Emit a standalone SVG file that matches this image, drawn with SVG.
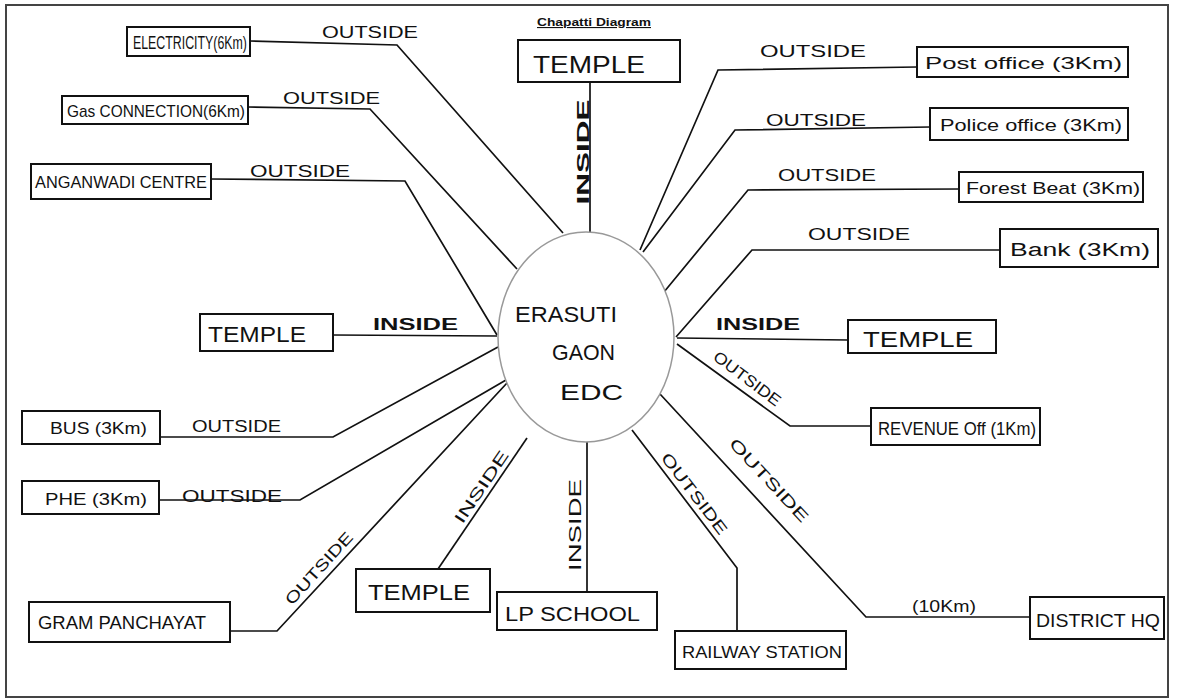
<svg xmlns="http://www.w3.org/2000/svg" width="1181" height="700" viewBox="0 0 1181 700">
<style>
.box{fill:#fff;stroke:#111;stroke-width:2}
.t{font-family:"Liberation Sans","DejaVu Sans",sans-serif;fill:#111}
.lbl{font-family:"Liberation Sans","DejaVu Sans",sans-serif;fill:#111;font-size:16px}
.b{font-weight:bold}
.ln{fill:none;stroke:#111;stroke-width:1.7;stroke-linejoin:miter}
</style>
<rect x="0" y="0" width="1181" height="700" fill="#fff"/>
<rect x="6" y="5" width="1162" height="692" fill="none" stroke="#444" stroke-width="2"/>
<text class="t b" x="537" y="26" font-size="11" textLength="114" lengthAdjust="spacingAndGlyphs" text-decoration="underline">Chapatti Diagram</text>

<g id="connectors">
<polyline class="ln" points="250,41 397,45 563,233"/>
<polyline class="ln" points="248,107 370,109 517,269"/>
<polyline class="ln" points="210,179 405,181 497,335"/>
<polyline class="ln" points="333,335 497,336"/>
<polyline class="ln" points="160,437 333,437 498,347"/>
<polyline class="ln" points="159,500 300,500 506,380"/>
<polyline class="ln" points="230,631 277,631 507,383"/>
<polyline class="ln" points="438,569 527,438"/>
<polyline class="ln" points="587,442 587,592"/>
<polyline class="ln" points="632,430 737,568 737,631"/>
<polyline class="ln" points="660,394 866,617 1030,617"/>
<polyline class="ln" points="677,344 790,426 871,426"/>
<polyline class="ln" points="677,338 848,340"/>
<polyline class="ln" points="676,337 752,250 1000,250"/>
<polyline class="ln" points="664,292 748,190 959,189"/>
<polyline class="ln" points="643,252 735,130 930,127"/>
<polyline class="ln" points="640,250 718,70 917,67"/>
<polyline class="ln" points="590,232 590,82"/>
</g>

<g id="labels">
<text class="lbl" x="322" y="38" textLength="96" lengthAdjust="spacingAndGlyphs">OUTSIDE</text>
<text class="lbl" x="283" y="104" textLength="97" lengthAdjust="spacingAndGlyphs">OUTSIDE</text>
<text class="lbl" x="250" y="177" textLength="100" lengthAdjust="spacingAndGlyphs">OUTSIDE</text>
<text class="lbl b" x="373" y="330" textLength="85" lengthAdjust="spacingAndGlyphs">INSIDE</text>
<text class="lbl" x="192" y="432" textLength="89" lengthAdjust="spacingAndGlyphs">OUTSIDE</text>
<text class="lbl" x="182" y="502" textLength="100" lengthAdjust="spacingAndGlyphs">OUTSIDE</text>
<text class="lbl" transform="translate(323,572) rotate(-47.7)" text-anchor="middle" font-size="15" textLength="92" lengthAdjust="spacingAndGlyphs">OUTSIDE</text>
<text class="lbl" transform="translate(486,490) rotate(-56)" text-anchor="middle" font-size="15" textLength="84" lengthAdjust="spacingAndGlyphs">INSIDE</text>
<text class="lbl" transform="translate(581,525) rotate(-90)" text-anchor="middle" font-size="15" textLength="92" lengthAdjust="spacingAndGlyphs">INSIDE</text>
<text class="lbl" transform="translate(690,497) rotate(52.7)" text-anchor="middle" font-size="16" textLength="98" lengthAdjust="spacingAndGlyphs">OUTSIDE</text>
<text class="lbl" transform="translate(765,484) rotate(47.1)" text-anchor="middle" font-size="17" textLength="108" lengthAdjust="spacingAndGlyphs">OUTSIDE</text>
<text class="lbl" x="912" y="612" textLength="64" lengthAdjust="spacingAndGlyphs">(10Km)</text>
<text class="lbl" transform="translate(744,383) rotate(37)" text-anchor="middle" font-size="14" textLength="80" lengthAdjust="spacingAndGlyphs">OUTSIDE</text>
<text class="lbl b" x="716" y="330" textLength="84" lengthAdjust="spacingAndGlyphs">INSIDE</text>
<text class="lbl" x="808" y="240" textLength="102" lengthAdjust="spacingAndGlyphs">OUTSIDE</text>
<text class="lbl" x="778" y="181" textLength="98" lengthAdjust="spacingAndGlyphs">OUTSIDE</text>
<text class="lbl" x="766" y="126" textLength="100" lengthAdjust="spacingAndGlyphs">OUTSIDE</text>
<text class="lbl" x="760" y="57" textLength="106" lengthAdjust="spacingAndGlyphs">OUTSIDE</text>
<text class="lbl b" transform="translate(589,152) rotate(-90)" text-anchor="middle" font-size="17" textLength="105" lengthAdjust="spacingAndGlyphs">INSIDE</text>
</g>

<g id="center">
<ellipse cx="586" cy="337" rx="88" ry="105" fill="#fff" stroke="#999" stroke-width="1.5"/>
<text class="t" x="515" y="322" font-size="22" textLength="102" lengthAdjust="spacingAndGlyphs">ERASUTI</text>
<text class="t" x="552" y="360" font-size="22" textLength="63" lengthAdjust="spacingAndGlyphs">GAON</text>
<text class="t" x="560" y="400" font-size="22" textLength="63" lengthAdjust="spacingAndGlyphs">EDC</text>
</g>

<g id="temple-top"><rect class="box" x="518" y="40" width="162" height="42"/><text class="t" x="533" y="73" font-size="24" textLength="112" lengthAdjust="spacingAndGlyphs">TEMPLE</text></g>
<g id="electricity"><rect class="box" x="127" y="27" width="123" height="29"/><text class="t" x="133" y="49" font-size="18" textLength="114" lengthAdjust="spacingAndGlyphs">ELECTRICITY(6Km)</text></g>
<g id="gas"><rect class="box" x="62" y="96" width="186" height="28"/><text class="t" x="67" y="117" font-size="17" textLength="178" lengthAdjust="spacingAndGlyphs">Gas CONNECTION(6Km)</text></g>
<g id="anganwadi"><rect class="box" x="31" y="164" width="180" height="35"/><text class="t" x="35" y="188" font-size="16" textLength="172" lengthAdjust="spacingAndGlyphs">ANGANWADI CENTRE</text></g>
<g id="temple-left"><rect class="box" x="200" y="314" width="133" height="37"/><text class="t" x="208" y="342" font-size="22" textLength="98" lengthAdjust="spacingAndGlyphs">TEMPLE</text></g>
<g id="bus"><rect class="box" x="22" y="411" width="138" height="33"/><text class="t" x="50" y="434" font-size="17" textLength="97" lengthAdjust="spacingAndGlyphs">BUS (3Km)</text></g>
<g id="phe"><rect class="box" x="22" y="481" width="137" height="33"/><text class="t" x="45" y="505" font-size="17" textLength="102" lengthAdjust="spacingAndGlyphs">PHE (3Km)</text></g>
<g id="gram-panchayat"><rect class="box" x="29" y="602" width="201" height="40"/><text class="t" x="38" y="629" font-size="18" textLength="168" lengthAdjust="spacingAndGlyphs">GRAM PANCHAYAT</text></g>
<g id="temple-bottom"><rect class="box" x="356" y="569" width="134" height="43"/><text class="t" x="368" y="600" font-size="22" textLength="102" lengthAdjust="spacingAndGlyphs">TEMPLE</text></g>
<g id="lp-school"><rect class="box" x="497" y="592" width="160" height="38"/><text class="t" x="505" y="621" font-size="20" textLength="135" lengthAdjust="spacingAndGlyphs">LP SCHOOL</text></g>
<g id="railway"><rect class="box" x="675" y="631" width="171" height="38"/><text class="t" x="682" y="658" font-size="17" textLength="160" lengthAdjust="spacingAndGlyphs">RAILWAY STATION</text></g>
<g id="district-hq"><rect class="box" x="1030" y="597" width="134" height="42"/><text class="t" x="1036" y="627" font-size="19" textLength="124" lengthAdjust="spacingAndGlyphs">DISTRICT HQ</text></g>
<g id="revenue"><rect class="box" x="871" y="408" width="169" height="37"/><text class="t" x="878" y="435" font-size="18" textLength="158" lengthAdjust="spacingAndGlyphs">REVENUE Off (1Km)</text></g>
<g id="temple-right"><rect class="box" x="848" y="320" width="148" height="33"/><text class="t" x="863" y="347" font-size="22" textLength="110" lengthAdjust="spacingAndGlyphs">TEMPLE</text></g>
<g id="bank"><rect class="box" x="1000" y="229" width="158" height="38"/><text class="t" x="1010" y="256" font-size="18" textLength="140" lengthAdjust="spacingAndGlyphs">Bank (3Km)</text></g>
<g id="forest-beat"><rect class="box" x="959" y="172" width="184" height="30"/><text class="t" x="966" y="194" font-size="17" textLength="174" lengthAdjust="spacingAndGlyphs">Forest Beat (3Km)</text></g>
<g id="police-office"><rect class="box" x="930" y="108" width="198" height="32"/><text class="t" x="940" y="131" font-size="17" textLength="182" lengthAdjust="spacingAndGlyphs">Police office (3Km)</text></g>
<g id="post-office"><rect class="box" x="917" y="47" width="211" height="30"/><text class="t" x="925" y="69" font-size="17" textLength="197" lengthAdjust="spacingAndGlyphs">Post office (3Km)</text></g>
</svg>
